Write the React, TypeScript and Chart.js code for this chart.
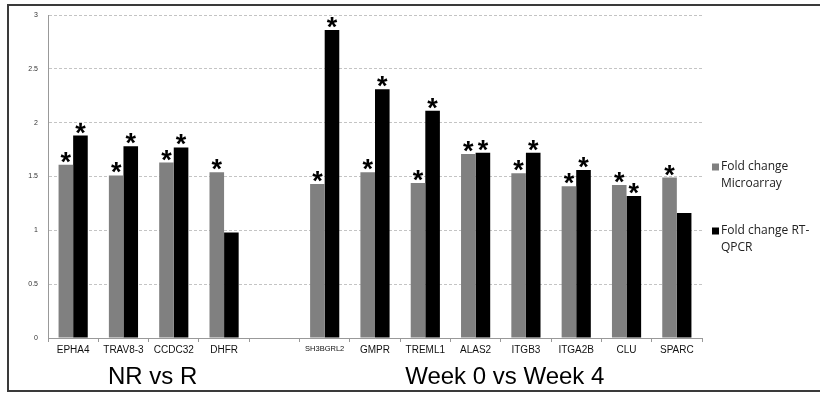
import React, { useEffect, useRef } from "react";
import { Chart, registerables } from "chart.js";

Chart.register(...registerables);

// Genes, grouped by comparison; the empty slot separates the two groups
const genes = [
  "EPHA4", "TRAV8-3", "CCDC32", "DHFR", "",
  "SH3BGRL2", "GMPR", "TREML1", "ALAS2", "ITGB3", "ITGA2B", "CLU", "SPARC",
];
const microarrayFold = [1.61, 1.51, 1.63, 1.54, null, 1.43, 1.54, 1.44, 1.71, 1.53, 1.41, 1.42, 1.49];
const qpcrFold = [1.88, 1.78, 1.77, 0.98, null, 2.86, 2.31, 2.11, 1.72, 1.72, 1.56, 1.32, 1.16];
// significance markers (*)
const microarraySig = [true, true, true, true, false, true, true, true, true, true, true, true, true];
const qpcrSig = [true, true, true, false, false, true, true, true, true, true, true, true, false];

const microarrayLegend = ["Fold change", "Microarray"];
const qpcrLegend = ["Fold change RT-", "QPCR"];

// comparison groups: caption with first/last category index
const groups = [
  { caption: "NR vs R", from: 0, to: 3 },
  { caption: "Week 0 vs Week 4", from: 5, to: 12 },
];

const yTicks = [0, 0.5, 1, 1.5, 2, 2.5, 3];

const GRAY = "#808080";
const BLACK = "#000000";
const SANS = "'Liberation Sans', Arial, sans-serif";

const framePlugin = {
  id: "frame",
  beforeDraw(chart: any) {
    const { ctx } = chart;
    ctx.save();
    ctx.fillStyle = "#ffffff";
    ctx.fillRect(0, 0, chart.width, chart.height);
    ctx.restore();
  },
  afterDraw(chart: any) {
    const { ctx } = chart;
    ctx.save();
    ctx.strokeStyle = "#3a3a3a";
    ctx.lineWidth = 2;
    ctx.strokeRect(8, 5, chart.width + 20, 386);
    ctx.restore();
  },
};

const starsPlugin = {
  id: "stars",
  afterDatasetsDraw(chart: any) {
    const { ctx } = chart;
    const sigs = [microarraySig, qpcrSig];
    ctx.save();
    ctx.fillStyle = "#000";
    ctx.font = `bold 27px ${SANS}`;
    ctx.textAlign = "center";
    ctx.textBaseline = "alphabetic";
    const m = ctx.measureText("*");
    chart.data.datasets.forEach((ds: any, di: number) => {
      const meta = chart.getDatasetMeta(di);
      meta.data.forEach((bar: any, i: number) => {
        if (!sigs[di][i] || ds.data[i] == null) return;
        const bottom = bar.y - 2;
        ctx.fillText("*", bar.x, bottom - m.actualBoundingBoxDescent);
      });
    });
    ctx.restore();
  },
};

const groupCaptionPlugin = {
  id: "groupCaptions",
  afterDraw(chart: any) {
    const { ctx } = chart;
    const x = chart.scales.x;
    ctx.save();
    ctx.fillStyle = "#000";
    ctx.font = `24px ${SANS}`;
    ctx.textAlign = "center";
    ctx.textBaseline = "alphabetic";
    groups.forEach((g) => {
      const cx = (x.getPixelForValue(g.from) + x.getPixelForValue(g.to)) / 2;
      ctx.fillText(g.caption, cx + 4, 384);
    });
    ctx.restore();
  },
};

const sideLegendPlugin = {
  id: "sideLegend",
  afterDraw(chart: any) {
    const { ctx, chartArea } = chart;
    const items = [
      { lines: microarrayLegend, color: GRAY, top: 167 },
      { lines: qpcrLegend, color: BLACK, top: 231 },
    ];
    const boxX = chartArea.right + 10;
    ctx.save();
    ctx.font = `12px 'Open Sans', sans-serif`;
    ctx.textBaseline = "middle";
    ctx.textAlign = "left";
    items.forEach((it) => {
      ctx.fillStyle = it.color;
      ctx.fillRect(boxX, it.top - 3.5, 7, 7);
      ctx.fillStyle = "#222";
      it.lines.forEach((ln, k) => {
        ctx.fillText(ln, boxX + 9, it.top + k * 17);
      });
    });
    ctx.restore();
  },
};

export default function App() {
  const ref = useRef<HTMLCanvasElement | null>(null);

  useEffect(() => {
    if (!ref.current) return;
    const chart = new Chart(ref.current, {
      type: "bar",
      data: {
        labels: genes,
        datasets: [
          {
            label: microarrayLegend.join(" "),
            data: microarrayFold,
            backgroundColor: GRAY,
            borderWidth: 0,
          },
          {
            label: qpcrLegend.join(" "),
            data: qpcrFold,
            backgroundColor: BLACK,
            borderWidth: 0,
          },
        ],
      },
      options: {
        responsive: false,
        animation: false,
        layout: { padding: { top: 15, right: 118, left: 0, bottom: 0 } },
        datasets: {
          bar: { categoryPercentage: 0.58, barPercentage: 1.0 },
        },
        plugins: {
          legend: { display: false },
          tooltip: { enabled: false },
        },
        scales: {
          x: {
            offset: true,
            grid: {
              offset: true,
              drawOnChartArea: false,
              drawTicks: true,
              tickLength: 4,
              color: "#999",
            },
            border: { color: "#999", width: 1 },
            ticks: {
              autoSkip: false,
              maxRotation: 0,
              padding: 2,
              color: "#111",
              font: (c: any) => ({
                family: SANS,
                size: genes[c.index] === "SH3BGRL2" ? 7.5 : 10,
              }),
            },
            afterFit: (s: any) => {
              s.height = 57;
            },
          },
          y: {
            min: 0,
            max: 3,
            afterBuildTicks: (s: any) => {
              s.ticks = yTicks.map((v) => ({ value: v }));
            },
            grid: {
              color: "#c4c4c4",
              drawTicks: false,
            },
            border: { color: "#999", width: 1, dash: [3, 2] },
            ticks: {
              padding: 10,
              color: "#333",
              font: { family: SANS, size: 7 },
              callback: (v: any) => String(v),
            },
            afterFit: (s: any) => {
              s.width = 48;
            },
          },
        },
      },
      plugins: [framePlugin, starsPlugin, groupCaptionPlugin, sideLegendPlugin],
    });
    return () => chart.destroy();
  }, []);

  return (
    <div style={{ position: "absolute", left: 0, top: 0, width: 820, height: 395, background: "#fff" }}>
      <canvas ref={ref} width={820} height={395} />
    </div>
  );
}
